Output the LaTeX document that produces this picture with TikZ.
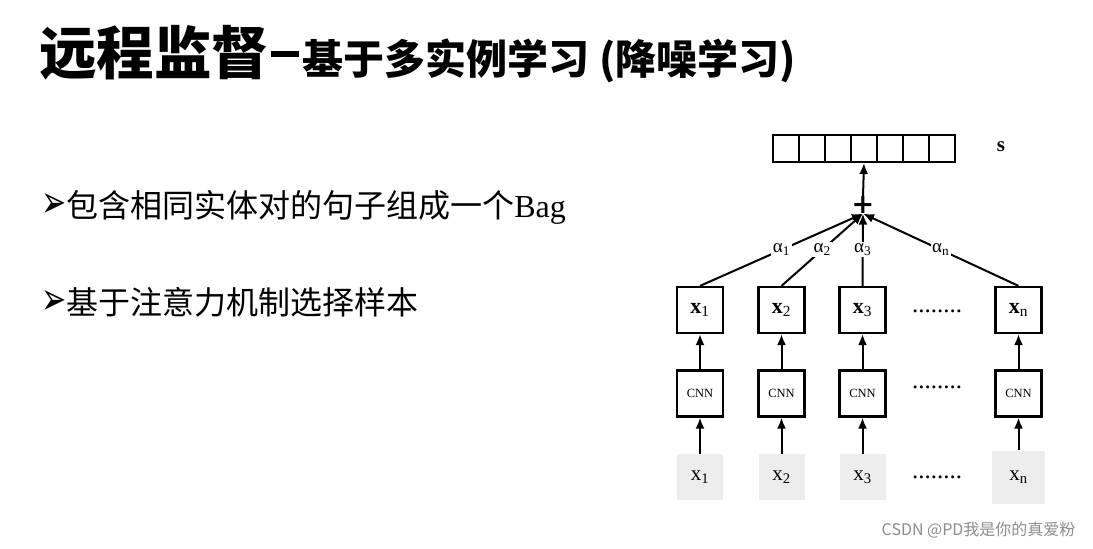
\documentclass[tikz,border=0pt]{standalone}
\usepackage{fontspec}
\setmainfont{Liberation Serif}
\newfontfamily\cjk{Noto Sans CJK SC}
\newfontfamily\symb{DejaVu Sans}
\usetikzlibrary{arrows.meta, positioning}

\begin{document}
\begin{tikzpicture}[x=1pt, y=-1pt,
  vecbox/.style={draw, line width=2pt, minimum width=26pt, minimum height=27pt, inner sep=0},
  featbox/.style={draw, line width=2.2pt, minimum width=46pt, minimum height=46pt, inner sep=0, font=\fontsize{22}{22}\selectfont},
  cnnbox/.style={featbox, font=\fontsize{12.5}{12.5}\selectfont},
  inbox/.style={fill=black!7, minimum width=#1, minimum height=#1, inner sep=0, font=\fontsize{21}{21}\selectfont},
  weight/.style={fill=white, inner sep=1.5pt, font=\fontsize{19}{19}\selectfont},
  arr/.style={-{Latex[length=11pt,width=9pt]}, line width=2pt},
  ellip/.style={font=\fontsize{25}{25}\selectfont, anchor=base}]
  \useasboundingbox (0,0) rectangle (1093,549);

  \node[anchor=base west, inner sep=0] (title) at (39,74)
    {\cjk\bfseries\fontsize{57.5}{60}\selectfont 远程监督\hspace{2pt}\raisebox{17pt}{\rule{28pt}{6pt}}\hspace{3pt}\fontsize{41}{42}\selectfont 基于多实例学习\hspace{10pt}(降噪学习)};
  \node[anchor=west, inner sep=0] (item1) at (41,207)
    {\fontsize{32}{32}\selectfont{\symb\fontsize{30}{30}\selectfont\scalebox{1}[1.5]{➢}}{\cjk 包含相同实体对的句子组成一个}Bag};
  \node[anchor=west, inner sep=0] (item2) at (41,302)
    {\fontsize{32}{32}\selectfont{\symb\fontsize{30}{30}\selectfont\scalebox{1}[1.5]{➢}}{\cjk 基于注意力机制选择样本}};

  \foreach \i in {0,...,6}
    \node[vecbox] (v\i) at (786+26*\i,148.5) {};
  \node[font=\bfseries\fontsize{21}{21}\selectfont] (s) at (1001,147) {s};
  \node[inner sep=0, font=\symb\bfseries\fontsize{27}{27}\selectfont] (sum) at (863,205) {+};
  \draw[arr] (sum.north) -- (v3.south);

  \foreach \i/\px/\sz in {1/700/46pt, 2/781.5/46pt, 3/862.5/46pt, n/1018.5/53pt} {
    \node[featbox] (f\i) at (\px,310) {\textbf{x}\textsubscript{\i}};
    \node[cnnbox] (c\i) at (\px,393.5) {CNN};
    \node[inbox=\sz] (in\i) at (\px,477) {x\textsubscript{\i}};
    \draw[arr] (in\i.north) -- (c\i.south);
    \draw[arr] (c\i.north) -- (f\i.south);
    \draw[arr] (f\i.north) -- node[weight, pos=0.5] {α\textsubscript{\i}} (sum.south);
  }

  \node[ellip] (d1) at (937,312) {........};
  \node[ellip] (d2) at (937,388) {........};
  \node[ellip] (d3) at (937,478) {........};

  \node[anchor=east, text=black!45, font=\cjk\fontsize{16}{16}\selectfont] (mark) at (1079,530) {CSDN @PD我是你的真爱粉};
\end{tikzpicture}
\end{document}
